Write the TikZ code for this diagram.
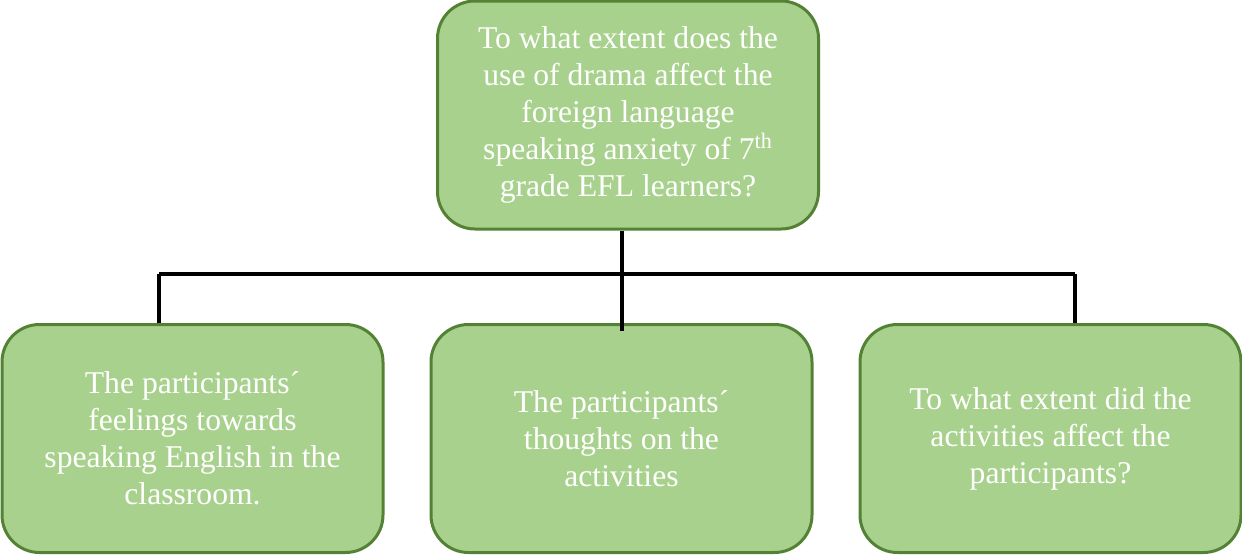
\documentclass[tikz,border=0pt]{standalone}
\usepackage{fontspec}
\setmainfont{Liberation Serif}
\definecolor{boxfill}{HTML}{A9D18E}
\definecolor{boxline}{HTML}{548235}
\begin{document}
\begin{tikzpicture}[every path/.style={line width=0.08cm},every node/.style={draw=boxline,fill=boxfill,line width=0.06cm,rounded corners=0.75cm,align=center,text=white,font=\fontsize{18}{21}\selectfont,minimum width=7.62cm,minimum height=4.56cm}]
		\useasboundingbox (0,0) rectangle (24.84,11.1);
		\node (question) at (12.56,8.8) {To what extent does the\\use of drama affect the\\foreign language\\speaking anxiety of 7\textsuperscript{th}\\grade EFL learners?};
		\node (feelings) at (3.85,2.33) {The participants´\\feelings towards\\speaking English in the\\classroom.};
		\node (thoughts) at (12.43,2.33) {The participants´\\thoughts on the\\activities};
		\node (affect) at (21.01,2.33) {To what extent did the\\activities affect the\\participants?};
		\coordinate (bar-l) at (3.18,5.62);
		\coordinate (bar-r) at (21.5,5.62);
		
		\draw (bar-l) -- (bar-r);
		\draw (question.south -| thoughts.north) -- ([yshift=-0.16cm]thoughts.north);
		\draw (bar-l) -- (bar-l |- feelings.north);
		\draw (bar-r) -- (bar-r |- affect.north);
	\end{tikzpicture}
\end{document}
